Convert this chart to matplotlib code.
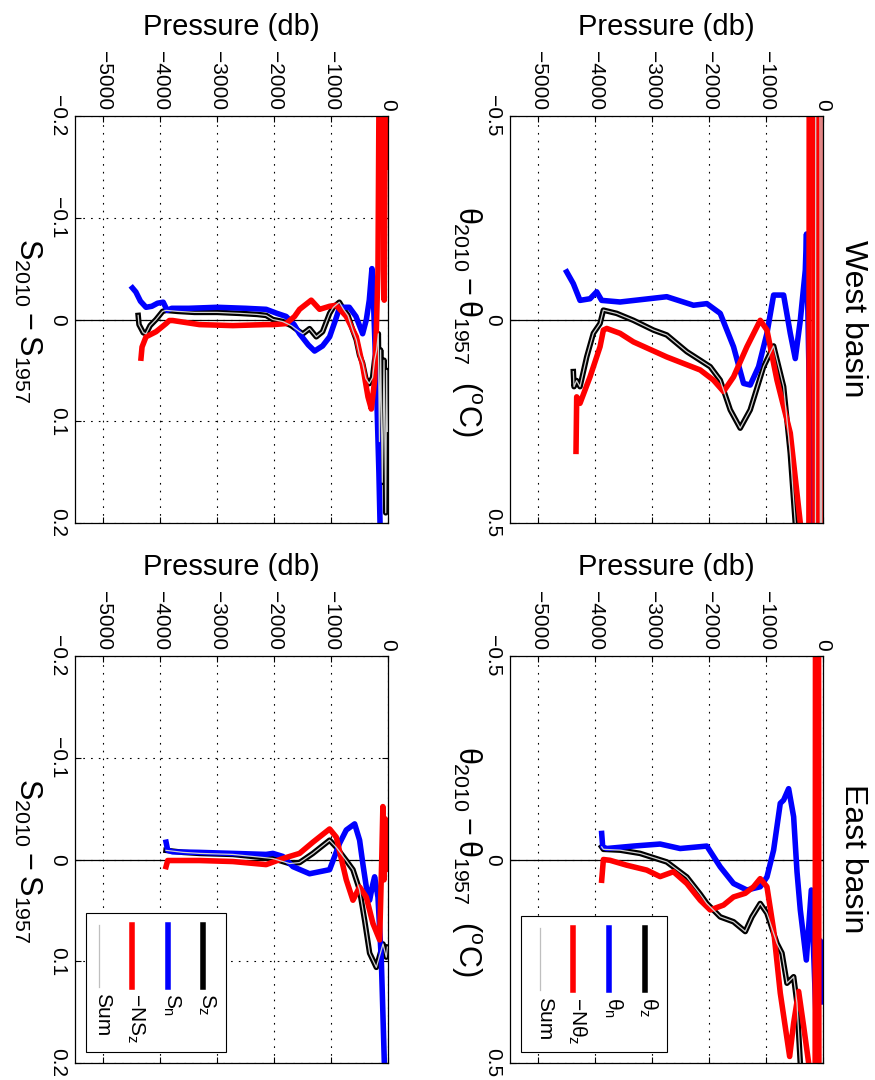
import matplotlib.pyplot as plt
from matplotlib.patches import Rectangle

plt.rcParams['font.family'] = ['Liberation Sans', 'DejaVu Sans']
plt.rcParams['mathtext.fontset'] = 'custom'
plt.rcParams['mathtext.rm'] = 'Liberation Sans'
plt.rcParams['mathtext.it'] = 'Liberation Sans'
plt.rcParams['mathtext.bf'] = 'Liberation Sans:bold'

# ---- axes ticks ----
p_ticks = [-5000, -4000, -3000, -2000, -1000, 0]
s_ticks = [-0.2, -0.1, 0, 0.1, 0.2]
s_tick_labels = ['\u22120.2', '\u22120.1', '0', '0.1', '0.2']
t_ticks = [-0.5, 0, 0.5]
t_tick_labels = ['\u22120.5', '0', '0.5']

# ---- West basin, salinity ----
ws_z_p = [-4390, -4375, -4300, -4252, -4180, -4076, -3960, -3900, -3700, -3400, -3000,
          -2600, -2300, -2141, -2023, -1850, -1700, -1554, -1495, -1378, -1260, -1150,
          -1026, -960, -855, -780, -704, -622, -557, -500, -446, -390, -329, -271, -235,
          -200, -170, -150, -130, -100, -70, -40, -25, -10]
ws_z_v = [-0.004, 0.005, 0.013, 0.014, 0.006, 0.000, -0.008, -0.009, -0.008, -0.007, -0.007,
          -0.006, -0.005, -0.004, 0.000, 0.002, 0.006, 0.012, 0.014, 0.009, 0.017, 0.012,
          -0.006, -0.012, -0.017, -0.010, -0.004, 0.010, 0.020, 0.035, 0.043, 0.058, 0.063,
          0.057, 0.040, 0.030, 0.014, 0.120, 0.030, 0.160, 0.040, 0.190, 0.050, 0.110]
ws_n_p = [-4490, -4430, -4350, -4252, -4150, -4050, -3950, -3880, -3800, -3500, -3000,
          -2500, -2141, -1950, -1790, -1650, -1554, -1400, -1290, -1150, -1026, -920,
          -850, -750, -680, -563, -446, -380, -329, -282, -250, -200, -160, -120, -60, -20]
ws_n_v = [-0.031, -0.027, -0.018, -0.012, -0.013, -0.016, -0.017, -0.009, -0.011, -0.011,
          -0.012, -0.011, -0.010, -0.006, -0.003, 0.005, 0.014, 0.025, 0.031, 0.026, 0.017,
          0.000, -0.012, -0.012, -0.012, -0.003, 0.014, 0.000, -0.019, -0.050, -0.010,
          0.070, 0.150, 0.250, 0.300, 0.250]
ws_nz_p = [-4340, -4322, -4252, -4076, -3900, -3842, -3783, -3314, -2727, -2141, -2023,
           -1789, -1642, -1554, -1349, -1202, -1026, -909, -733, -557, -440, -352, -293,
           -235, -205, -176, -150, -120, -95, -66, -40, -15]
ws_nz_v = [0.038, 0.027, 0.017, 0.012, 0.004, 0.001, 0.001, 0.005, 0.006, 0.005, 0.005,
           0.004, -0.003, -0.010, -0.019, -0.010, -0.013, -0.014, -0.003, 0.017, 0.047,
           0.076, 0.088, 0.060, 0.010, -0.049, -0.300, -0.100, -0.300, -0.019, -0.300, -0.150]
# the Sum curve lies on top of the S_z curve
ws_sum_p = ws_z_p
ws_sum_v = ws_z_v

# ---- West basin, potential temperature ----
wt_z_p = [-4387, -4375, -4330, -4270, -4152, -4035, -3918, -3859, -3625, -3331, -2979,
          -2745, -2393, -1982, -1806, -1630, -1455, -1279, -1044, -868, -692, -575, -487,
          -400, -135, -125, -55, -45, -25, -15]
wt_z_v = [0.128, 0.165, 0.150, 0.165, 0.092, 0.034, 0.010, -0.023, -0.015, 0.002, 0.026,
          0.038, 0.079, 0.116, 0.149, 0.222, 0.267, 0.222, 0.116, 0.065, 0.165, 0.328, 0.500,
          1.0, 1.0, -1.0, -1.0, 1.0, 1.0, -1.0]
wt_n_p = [-4504, -4387, -4270, -4094, -3977, -3889, -3566, -2745, -2276, -2041, -1806,
          -1572, -1396, -1279, -1132, -985, -868, -692, -575, -487, -399, -311, -290,
          -250, -200, -170]
wt_n_v = [-0.117, -0.088, -0.047, -0.051, -0.068, -0.047, -0.043, -0.056, -0.035, -0.039,
          -0.015, 0.067, 0.157, 0.161, 0.116, 0.034, -0.060, -0.060, 0.034, 0.096, 0.002,
          -0.121, -0.210, 0.100, 0.550, 0.800]
wt_nz_p = [-4340, -4328, -4270, -4094, -3918, -3859, -3800, -3566, -3331, -2745, -2158,
           -1924, -1748, -1572, -1337, -1103, -985, -809, -575, -399, -320, -250, -240,
           -150, -140, -70, -60, -15, -8]
wt_nz_v = [0.324, 0.190, 0.206, 0.141, 0.067, 0.026, 0.022, 0.034, 0.055, 0.092, 0.124,
           0.149, 0.177, 0.141, 0.067, 0.002, 0.026, 0.149, 0.279, 0.500, 1.0, 1.0, -1.0,
           -1.0, 1.0, 1.0, -1.0, -1.0, 1.0]
wt_sum_p = wt_z_p
wt_sum_v = wt_z_v

# ---- East basin, salinity ----
es_z_p = [-3900, -3600, -3314, -2727, -2023, -1730, -1554, -1320, -1026, -909, -733,
          -616, -499, -410, -323, -205, -88, -30, -10]
es_z_v = [-0.009, -0.007, -0.006, -0.005, -0.001, 0.004, 0.003, -0.006, -0.019, -0.012,
          0.001, 0.010, 0.030, 0.060, 0.092, 0.106, 0.083, 0.096, 0.086]
es_n_p = [-3900, -3871, -3783, -3314, -2727, -2141, -2023, -1847, -1671, -1378, -1026,
          -850, -733, -586, -499, -440, -381, -323, -270, -235, -176, -117, -59, -20]
es_n_v = [-0.017, -0.009, -0.0075, -0.007, -0.006, -0.005, -0.006, -0.003, 0.007, 0.014,
          0.010, -0.016, -0.029, -0.035, -0.019, 0.005, 0.027, 0.040, 0.025, 0.017, 0.037,
          0.099, 0.210, 0.250]
es_nz_p = [-3900, -3871, -3314, -2727, -2141, -1847, -1554, -1320, -1026, -909, -733,
           -616, -499, -381, -264, -147, -110, -90, -70, -50, -30, -10]
es_nz_v = [0.007, 0.001, 0.001, 0.002, 0.005, -0.001, -0.006, -0.017, -0.030, -0.022,
           0.020, 0.040, 0.027, 0.037, 0.063, 0.079, 0.000, -0.052, 0.020, -0.040, 0.010, -0.030]
es_sum_p = es_z_p
es_sum_v = es_z_v

# ---- East basin, potential temperature ----
et_z_p = [-3889, -3859, -3566, -3214, -2745, -2393, -2158, -2041, -1806, -1572, -1366,
          -1249, -1103, -985, -809, -721, -633, -516, -457, -399, -300, -150]
et_z_v = [-0.031, -0.025, -0.023, -0.015, 0.006, 0.043, 0.085, 0.108, 0.141, 0.153, 0.177,
          0.141, 0.108, 0.132, 0.206, 0.230, 0.304, 0.288, 0.353, 0.500, 0.9, 1.0]
et_n_p = [-3889, -3871, -3800, -3331, -2862, -2510, -2041, -1806, -1572, -1337, -1103,
          -985, -868, -751, -692, -604, -516, -457, -399, -293, -205, -106, -47, -20]
et_n_v = [-0.064, -0.031, -0.027, -0.033, -0.038, -0.027, -0.033, 0.018, 0.059, 0.075,
          0.067, 0.043, -0.023, -0.138, -0.146, -0.174, -0.105, 0.030, 0.124, 0.247, 0.075,
          0.450, 0.200, 0.350]
et_nz_p = [-3889, -3859, -3742, -3449, -3097, -2862, -2628, -2393, -2158, -1982, -1748,
           -1572, -1366, -1220, -1103, -985, -868, -751, -586, -516, -428, -340, -252,
           -170, -140, -130, -80, -70]
et_nz_v = [0.051, 0.000, 0.002, 0.014, 0.026, 0.042, 0.030, 0.059, 0.100, 0.124, 0.112,
           0.092, 0.083, 0.067, 0.047, 0.067, 0.173, 0.328, 0.484, 0.402, 0.324, 0.410, 0.500,
           1.0, 1.0, -1.0, -1.0, 1.0]
et_sum_p = et_z_p
et_sum_v = et_z_v

s_legend = [r'$S_z$', r'$S_n$', r'$-NS_z$', 'Sum']
t_legend = [r'$\theta_z$', r'$\theta_n$', r'$-N\theta_z$', 'Sum']

fig = plt.figure(figsize=(8.75, 10.8), dpi=100)
W, H = 875.0, 1080.0


def make_axes(left, top):
    return fig.add_axes([left / W, 1 - (top + 407) / H, 313 / W, 407 / H])


def style(ax, lim, ticks, tick_labels):
    ax.set_xlim(-5500, 0)
    ax.set_ylim(lim, -lim)
    ax.set_xticks(p_ticks)
    ax.set_yticks(ticks, labels=tick_labels)
    ax.xaxis.tick_top()
    ax.xaxis.set_label_position('top')
    ax.tick_params(axis='both', direction='in', top=True, bottom=True, left=True,
                   right=True, labelsize=15, length=4, width=0.8)
    ax.tick_params(axis='x', labelrotation=-90, labeltop=True, labelbottom=False, pad=4)
    ax.tick_params(axis='y', labelrotation=-90, pad=6)
    for t in ax.yaxis.get_major_ticks():
        t.label1.set_verticalalignment('center')
    ax.set_axisbelow(True)
    ax.grid(True, color='k', linestyle=(0, (1.5, 5.5)), linewidth=0.8)
    ax.axhline(0, color='k', lw=0.9, zorder=1)
    ax.set_xlabel('Pressure (db)', fontsize=21, labelpad=12)
    for sp in ax.spines.values():
        sp.set_linewidth(0.9)


def draw(ax, z, n, nz, sm):
    ax.plot(z[0], z[1], color='k', lw=4, solid_joinstyle='round')
    ax.plot(n[0], n[1], color='#0000ff', lw=4, solid_joinstyle='round')
    ax.plot(nz[0], nz[1], color='#ff0000', lw=4, solid_joinstyle='round')
    ax.plot(sm[0], sm[1], color='0.82', lw=0.9)


def legend(ax, labels, x1, y_top):
    ax.add_patch(Rectangle((0.035, 0.027), x1 - 0.035, y_top - 0.027, transform=ax.transAxes,
                           facecolor='white', edgecolor='k', lw=0.8, zorder=5))
    xs = [x1 - 0.072, x1 - 0.185, x1 - 0.300, x1 - 0.405]
    styles = [('k', 4), ('#0000ff', 4), ('#ff0000', 4), ('0.75', 0.9)]
    for x, lab, (c, lw) in zip(xs, labels, styles):
        ax.plot([x, x], [y_top - 0.03, y_top - 0.182], color=c, lw=lw,
                transform=ax.transAxes, zorder=6)
        ax.text(x + 0.012, y_top - 0.198, lab, rotation=-90, ha='center', va='top',
                fontsize=15, transform=ax.transAxes, zorder=7)


ax_ws = make_axes(75, 116)
ax_wt = make_axes(510, 116)
ax_es = make_axes(75, 656)
ax_et = make_axes(510, 656)

for ax in (ax_ws, ax_es):
    style(ax, 0.2, s_ticks, s_tick_labels)
for ax in (ax_wt, ax_et):
    style(ax, 0.5, t_ticks, t_tick_labels)

draw(ax_ws, (ws_z_p, ws_z_v), (ws_n_p, ws_n_v), (ws_nz_p, ws_nz_v), (ws_sum_p, ws_sum_v))
draw(ax_wt, (wt_z_p, wt_z_v), (wt_n_p, wt_n_v), (wt_nz_p, wt_nz_v), (wt_sum_p, wt_sum_v))
draw(ax_es, (es_z_p, es_z_v), (es_n_p, es_n_v), (es_nz_p, es_nz_v), (es_sum_p, es_sum_v))
draw(ax_et, (et_z_p, et_z_v), (et_n_p, et_n_v), (et_nz_p, et_nz_v), (et_sum_p, et_sum_v))

legend(ax_es, s_legend, 0.482, 0.369)
legend(ax_et, t_legend, 0.502, 0.361)

s_label = r'$S_{2010} - S_{1957}$'
t_label = r'$\theta_{2010} - \theta_{1957}$  ($^{\rm o}$C)'
for yc in (321, 861):
    fig.text(28 / W, 1 - yc / H, s_label, rotation=-90, ha='center', va='center', fontsize=22)
    fig.text(466 / W, 1 - yc / H, t_label, rotation=-90, ha='center', va='center', fontsize=22)

fig.text(853 / W, 1 - 319 / H, 'West basin', rotation=-90, ha='center', va='center', fontsize=23)
fig.text(853 / W, 1 - 859 / H, 'East basin', rotation=-90, ha='center', va='center', fontsize=23)

fig.savefig('out.png', dpi=100)
